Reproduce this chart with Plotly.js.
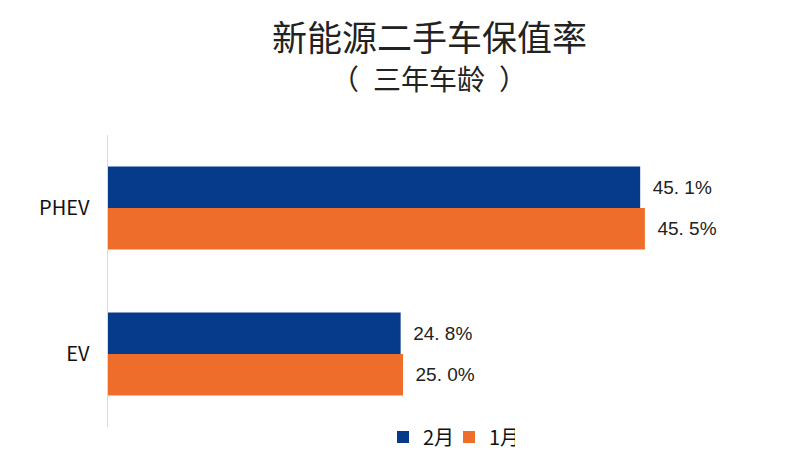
<!DOCTYPE html>
<html>
<head>
<meta charset="utf-8">
<script src="https://cdn.plot.ly/plotly-3.0.1.min.js"></script>
<style>html,body{margin:0;padding:0;background:#fff;}#chart{width:812px;height:469px;}</style>
</head>
<body>
<div id="chart"></div>
<script>
const categories = ['PHEV', 'EV'];
const seriesNames = ['2月', '1月'];
const feb = [45.1, 24.8];
const jan = [45.5, 25.0];
const colors = ['#063b8c', '#ee6d2a'];
const FONT = '"Noto Sans CJK SC", "Noto Sans", sans-serif';
const LABEL_FONT = '"Liberation Sans", Arial, sans-serif';

function fmt(v) { return '\u2002' + v.toFixed(1).replace('.', '. ') + '%'; }

const traces = [feb, jan].map((vals, i) => ({
  type: 'bar',
  orientation: 'h',
  name: seriesNames[i],
  y: categories,
  x: vals,
  marker: { color: colors[i] },
  text: vals.map(fmt),
  textposition: 'outside',
  cliponaxis: false,
  textfont: { family: LABEL_FONT, size: 19, color: '#222' },
  hoverinfo: 'none'
}));

// paper area: top 135, bottom margin 10 -> paper height 324; plot bottom at 427
const PT = 135, PH = 469 - 135 - 10;
function py(pix) { return (PT + PH - pix) / PH; }
const PL = 108, PW = 812 - 108 - 55;
function px(pix) { return (pix - PL) / PW; }

const layout = {
  width: 812, height: 469,
  margin: { l: PL, r: 55, t: PT, b: 10 },
  paper_bgcolor: '#fff', plot_bgcolor: '#fff',
  barmode: 'group',
  bargap: 0.43,
  bargroupgap: 0,
  font: { family: FONT, color: '#222' },
  xaxis: { range: [0, 55], showticklabels: false, showgrid: false, zeroline: false, showline: false, ticks: '' },
  yaxis: { domain: [py(427), 1], autorange: 'reversed', showline: true, linecolor: '#d9d9d9', linewidth: 1.5, showgrid: false, zeroline: false, ticks: '', ticklabelstandoff: 13, tickfont: { family: FONT, size: 20, color: '#111' } },
  showlegend: true,
  legend: { orientation: 'h', x: px(383), xanchor: 'left', y: py(437), yanchor: 'middle', font: { family: FONT, size: 20, color: '#111' }, traceorder: 'normal', itemwidth: 30, entrywidth: 21, entrywidthmode: 'pixels' },
  annotations: [
    { text: '新能源二手车保值率', xref: 'paper', yref: 'paper', x: px(429), y: py(36), xanchor: 'center', yanchor: 'middle', showarrow: false, font: { family: FONT, size: 35, color: '#222' } },
    { text: '（\u2002三年车龄\u2002）', xref: 'paper', yref: 'paper', x: px(429), y: py(78), xanchor: 'center', yanchor: 'middle', showarrow: false, font: { family: FONT, size: 28, color: '#222' } }
  ]
};

Plotly.newPlot('chart', traces, layout, { displayModeBar: false, staticPlot: true });
</script>
</body>
</html>
